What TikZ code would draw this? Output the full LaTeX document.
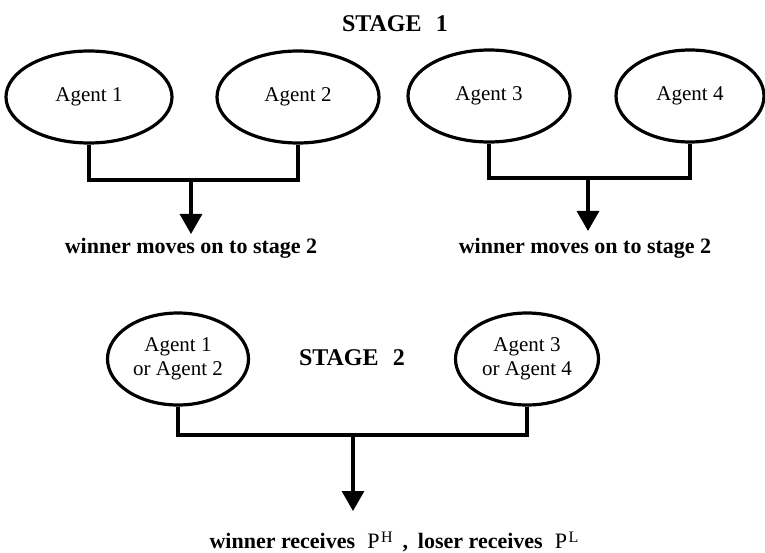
\documentclass[tikz,border=0pt]{standalone}
\usepackage{fontspec}
\setmainfont{Liberation Serif}
\usepackage{tikz}
\usetikzlibrary{arrows.meta,shapes.geometric}

\newcommand{\supsc}[1]{\raisebox{0.6ex}{\fontsize{16}{16}\selectfont\hspace{0.1em}#1}}

\tikzset{
  agent/.style={draw, ellipse, line width=3.2pt, inner sep=0pt,
    minimum width=162pt, minimum height=92pt, align=center,
    font=\fontsize{21}{24}\selectfont},
  link/.style={line width=3.2pt},
  arr/.style={line width=3.2pt, -{Triangle[length=20pt,width=22pt]}},
  result/.style={font=\bfseries\fontsize{22}{26}\selectfont},
  stagelbl/.style={font=\bfseries\fontsize{24}{28}\selectfont}
}

\begin{document}
\begin{tikzpicture}[x=1pt,y=-1pt]
                \useasboundingbox (0,0) rectangle (765,553);
                \node[stagelbl] (s1) at (395,24) {STAGE\hspace{0.6em}1};
                \node[agent, minimum width=166pt] (a1) at (89,97) {Agent 1};
                \node[agent] (a2) at (298,97) {Agent 2};
                \node[agent] (a3) at (489,96) {Agent 3};
                \node[agent, minimum width=148pt] (a4) at (690,96) {Agent 4};
                \coordinate (j1) at (191,180);
                \coordinate (j2) at (588,178);
                \coordinate (t1) at (191,234);
                \coordinate (t2) at (588,231);
                \draw[link] (a1.south) |- (j1) -| (a2.south);
                \draw[link] (a3.south) |- (j2) -| (a4.south);
                \draw[arr] (j1) -- (t1);
                \draw[arr] (j2) -- (t2);
                \node[result] (w1) at (191,248) {winner moves on to stage 2};
                \node[result] (w2) at (585,248) {winner moves on to stage 2};
                \node[agent, minimum width=141pt] (b1) at (178,359) {Agent 1\\or Agent 2};
                \node[agent, minimum width=143pt] (b2) at (527,359) {Agent 3\\or Agent 4};
                \node[stagelbl] (s2) at (352,358) {STAGE\hspace{0.6em}2};
                \coordinate (j3) at (353,435);
                \coordinate (t3) at (353,511);
                \draw[link] (b1.south) |- (j3) -| (b2.south);
                \draw[arr] (j3) -- (t3);
                \node[result] (w3) at (394,542) {winner receives\hspace{0.55em}{\mdseries P\supsc{H}}\hspace{0.45em},\hspace{0.2em} loser receives\hspace{0.55em}{\mdseries P\supsc{L}}};
            \end{tikzpicture}
\end{document}
